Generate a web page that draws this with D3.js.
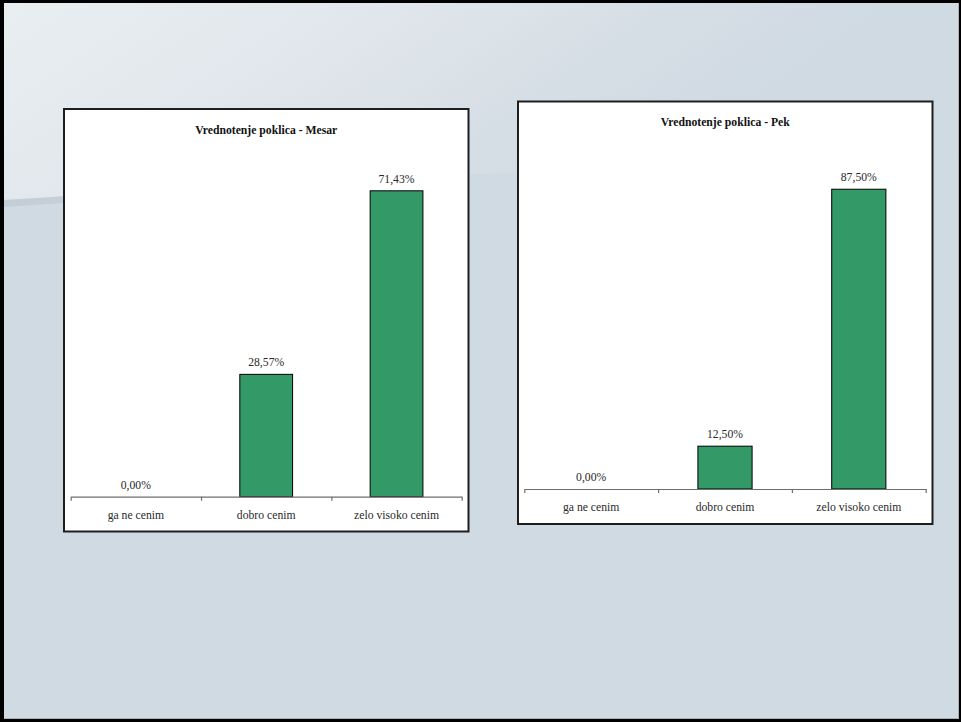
<!DOCTYPE html>
<html><head><meta charset="utf-8">
<script src="https://cdn.jsdelivr.net/npm/d3@7/dist/d3.min.js"></script>
<style>html,body{margin:0;padding:0;background:#000;overflow:hidden}svg{display:block}
svg text{font-family:"Liberation Serif","Times New Roman",serif;}</style>
</head><body>
<script>
// ---- data ----
const categories = ["ga ne cenim", "dobro cenim", "zelo visoko cenim"];
const chartTitles = ["Vrednotenje poklica - Mesar", "Vrednotenje poklica - Pek"];
const mesarValues = [0.0, 0.2857, 0.7143];
const pekValues = [0.0, 0.125, 0.875];
const axisMax = [0.8, 1.0];

const W = 961, H = 722;
const FONT = '"Liberation Serif", "Times New Roman", serif';
const svg = d3.select("body").append("svg").attr("width", W).attr("height", H);
const defs = svg.append("defs");

const gTop = defs.append("linearGradient").attr("id", "gTop").attr("x1", 0).attr("x2", 1).attr("y1", 0).attr("y2", 0.3);
[[0, "#e9eef1"], [0.35, "#e1e7ec"], [0.65, "#d6dee5"], [0.85, "#d0dae3"], [1, "#d0dae3"]].forEach(s =>
  gTop.append("stop").attr("offset", s[0]).attr("stop-color", s[1]));
const gBand = defs.append("linearGradient").attr("id", "gBand").attr("x1", 0).attr("x2", 1);
[[0, "#c4cdd6", 1], [0.3, "#c9d2db", 0.6], [0.55, "#ccd6df", 0]].forEach(s =>
  gBand.append("stop").attr("offset", s[0]).attr("stop-color", s[1]).attr("stop-opacity", s[2]));

// frame + background
svg.append("rect").attr("x", 0).attr("y", 0).attr("width", W).attr("height", H).attr("fill", "#000");
svg.append("rect").attr("x", 4).attr("y", 3).attr("width", 955).attr("height", 716).attr("fill", "#a9b1b9");
svg.append("rect").attr("x", 4).attr("y", 3).attr("width", 954).attr("height", 715).attr("fill", "#d0dae3");
const curve = d3.line().curve(d3.curveBasis);
const curvePts = [[4, 200], [250, 185], [520, 172], [961, 158]];
svg.append("path")
  .attr("d", "M4,3 L958,3 L958,158 " + curve(curvePts.slice().reverse()).slice(1) + " Z")
  .attr("fill", "url(#gTop)");
const bandBot = [[4, 207], [250, 190], [520, 174], [961, 158]];
svg.append("path")
  .attr("d", curve(curvePts) + " L" + curve(bandBot.slice().reverse()).slice(1) + " Z")
  .attr("fill", "url(#gBand)");

const fmt = d3.formatLocale({decimal: ",", thousands: ".", grouping: [3], currency: ["", "€"]}).format(".2%");

const layouts = [
  {box: {x: 64, y: 109, w: 404.5, h: 422.5}, plot: {l: 70.7, r: 461.7, t: 154.1, b: 496.7}},
  {box: {x: 518, y: 101.5, w: 414.5, h: 422.5}, plot: {l: 524.3, r: 925.7, t: 146.4, b: 489}}
];
const seriesList = [mesarValues, pekValues];

layouts.forEach((L, i) => {
  const values = seriesList[i];
  const g = svg.append("g");
  g.append("rect").attr("x", L.box.x).attr("y", L.box.y).attr("width", L.box.w).attr("height", L.box.h)
    .attr("fill", "#fff").attr("stroke", "#1e1e1e").attr("stroke-width", 2);
  g.append("text").attr("x", L.box.x + L.box.w / 2).attr("y", L.box.y + 24.5)
    .attr("text-anchor", "middle").style("font-family", FONT)
    .style("font-weight", "bold").style("font-size", "11.7px").attr("fill", "#111").text(chartTitles[i]);

  const x = d3.scaleBand().domain(categories).range([L.plot.l, L.plot.r]).padding(0);
  const y = d3.scaleLinear().domain([0, axisMax[i]]).range([L.plot.b, L.plot.t]);
  const bw = x.bandwidth() * 0.405;

  g.selectAll("rect.bar").data(categories.map((c, k) => ({c, v: values[k]})).filter(d => d.v > 0))
    .enter().append("rect").attr("class", "bar")
    .attr("x", d => x(d.c) + (x.bandwidth() - bw) / 2)
    .attr("y", d => y(d.v)).attr("width", bw).attr("height", d => y(0) - y(d.v))
    .attr("fill", "#339966").attr("stroke", "#000").attr("stroke-width", 1);

  g.selectAll("text.val").data(categories.map((c, k) => ({c, v: values[k]})))
    .enter().append("text").attr("class", "val")
    .attr("x", d => x(d.c) + x.bandwidth() / 2).attr("y", d => y(d.v) - 8)
    .attr("text-anchor", "middle").style("font-family", FONT)
    .style("font-size", "11.7px").attr("fill", "#2a2a2a").text(d => fmt(d.v));

  const xt = d3.scaleLinear().domain([0, categories.length]).range([L.plot.l, L.plot.r]);
  const tickAxis = g.append("g").attr("transform", `translate(0,${L.plot.b})`)
    .call(d3.axisBottom(xt).tickValues(d3.range(categories.length + 1)).tickFormat("").tickSize(4).tickSizeOuter(0));
  tickAxis.selectAll("path,line").attr("stroke", "#6e6e6e").attr("stroke-width", 1.2);

  const labAxis = g.append("g").attr("transform", `translate(0,${L.plot.b})`)
    .call(d3.axisBottom(x).tickSize(0).tickPadding(14));
  labAxis.attr("font-family", null).attr("font-size", null);
  labAxis.select("path").remove();
  labAxis.selectAll("text").style("font-family", FONT)
    .style("font-size", "11.7px").attr("fill", "#2a2a2a");
});
</script>
</body></html>
